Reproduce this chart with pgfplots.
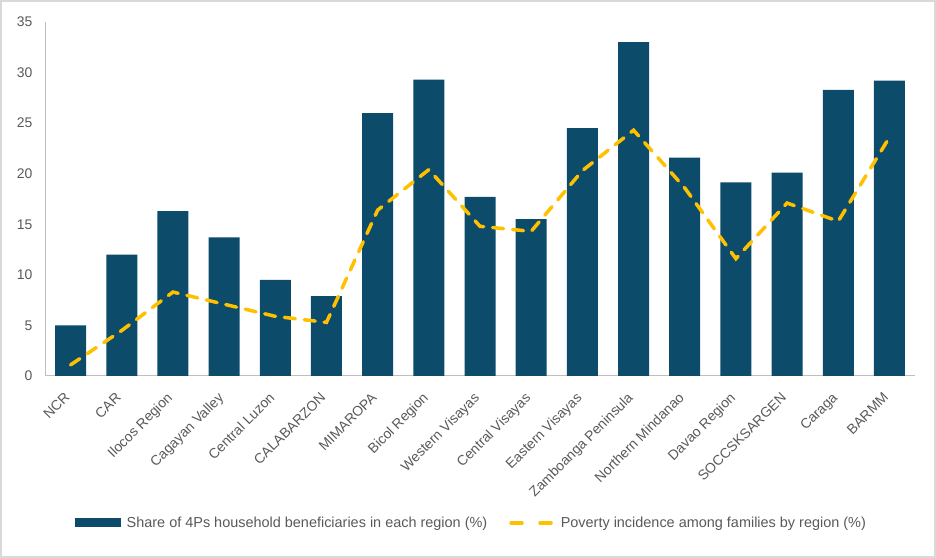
\documentclass[border=0pt]{standalone}
\usepackage{pgfplots}
\pgfplotsset{compat=1.18}
\usepackage{fontspec}
\setmainfont{Liberation Sans}
\definecolor{barblue}{RGB}{12,76,106}
\definecolor{gold}{RGB}{255,192,0}
\definecolor{txt}{RGB}{89,89,89}
\definecolor{axgray}{RGB}{191,191,191}
\definecolor{frame}{RGB}{217,217,217}
\begin{document}
\begin{tikzpicture}[x=1bp,y=1bp]
\useasboundingbox (0,0) rectangle (936,558);
\draw[frame, line width=1.5bp] (1,1) rectangle (935,557);
\begin{axis}[
  at={(45bp,182bp)}, anchor=south west,
  scale only axis,
  width=870bp, height=354bp,
  xmin=-0.5, xmax=16.5,
  ymin=0, ymax=35,
  ytick={0,5,...,35},
  xtick={0,...,16},
  xticklabels={NCR,CAR,Ilocos Region,Cagayan Valley,Central Luzon,CALABARZON,MIMAROPA,Bicol Region,Western Visayas,Central Visayas,Eastern Visayas,Zamboanga Peninsula,Northern Mindanao,Davao Region,SOCCSKSARGEN,Caraga,BARMM},
  axis x line=bottom, axis y line=left,
  axis line style={axgray, line width=1bp, -},
  major tick length=0pt,
  tick label style={font=\fontsize{14}{16}\selectfont, text=txt},
  xticklabel style={xshift=-7bp, yshift=-14bp, rotate=45, anchor=north east, inner sep=1bp},
  yticklabel style={xshift=-9bp},
  /pgf/number format/assume math mode=true,
  legend style={at={(0.49,-0.415)}, anchor=center, draw=none, fill=none,
    font=\fontsize{14.5}{16}\selectfont, text=txt,
    legend columns=2, /tikz/every even column/.append style={column sep=20bp}},
  legend cell align=left,
]
\addplot[ybar, bar width=31bp, fill=barblue, draw=none,
  legend image code/.code={\fill[barblue] (0bp,-4.5bp) rectangle (46bp,4.5bp);}]
  coordinates {(0,5.0)(1,12.0)(2,16.3)(3,13.7)(4,9.5)(5,7.9)(6,26.0)(7,29.3)(8,17.7)(9,15.5)(10,24.5)(11,33.0)(12,21.6)(13,19.15)(14,20.1)(15,28.3)(16,29.2)};
\addlegendentry{\hspace{4bp}Share of 4Ps household beneficiaries in each region (\%)}
\addplot[gold, line width=3.5bp, line cap=round, dash pattern=on 11bp off 9bp, sharp plot, mark=none,
  legend image code/.code={\draw[gold, line width=3.5bp, line cap=round] (2bp,0) -- (15bp,0) (31bp,0) -- (44bp,0);}]
  coordinates {(0,1.1)(1,4.5)(2,8.3)(3,7.1)(4,5.9)(5,5.3)(6,16.4)(7,20.4)(8,14.8)(9,14.3)(10,20.3)(11,24.3)(12,18.6)(13,11.6)(14,17.1)(15,15.3)(16,23.6)};
\addlegendentry{\hspace{4bp}Poverty incidence among families by region (\%)}
\end{axis}
\end{tikzpicture}
\end{document}
